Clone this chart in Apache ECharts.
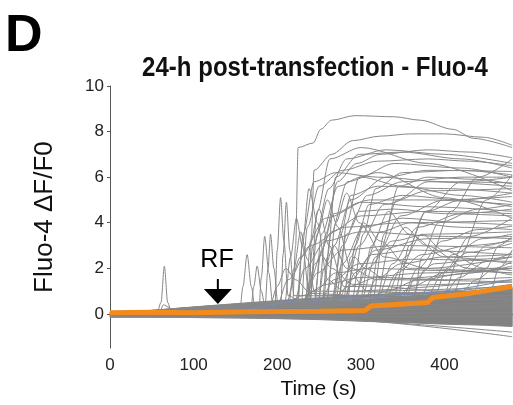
<!DOCTYPE html>
<html>
<head>
<meta charset="utf-8">
<script src="https://cdn.jsdelivr.net/npm/echarts@6/dist/echarts.min.js"></script>
<style>
html,body{margin:0;padding:0;background:#fff;}
#chart{width:513px;height:405px;}
</style>
</head>
<body>
<div id="chart"></div>
<script>
// ---- data ----
const timeTickLabels = [0, 100, 200, 300, 400];
const timeTicks = [0, 50, 100, 150, 200, 250, 300, 350, 400, 450];
const valueTicks = [0, 2, 4, 6, 8, 10];

// individual cell traces [time (s), dF/F0]
const grayTraces = [
  [[0,0.02],[56,0],[61,0.5],[65,2.1],[69,0.5],[74,0],[150,0.02],[481,0.05]],
  [[0,-0.05],[58,-0.05],[64,0.4],[70,0.3],[76,-0.1],[150,-0.1],[481,-0.1]],
  [[0,0],[155,0.05],[159,1.2],[164,2.6],[169,1.2],[174,0.1],[481,0.3]],
  [[0,0],[168,0.05],[172,1.2],[176,2.1],[181,1.0],[186,0.2],[481,0.4]],
  [[0,0],[178,0.1],[181,1.6],[185,3.4],[190,1.8],[195,0.3],[481,0.5]],
  [[0,0],[185,0.1],[189,2.0],[192,3.5],[196,2.0],[201,0.4],[481,0.7]],
  [[0,0],[197,0.1],[200,2.8],[204,5.1],[208,3.2],[213,0.8],[230,0.5],[481,0.8]],
  [[0,0],[204,0.1],[207,2.6],[211,4.9],[215,2.8],[220,0.8],[481,0.6]],
  [[0,0],[218,0.1],[222,3.0],[225,7.3],[243,7.5],[252,8.1],[265,8.5],[293,8.7],[340,8.65],[371,8.5],[410,8.1],[435,7.7],[481,7.3]],
  [[0,0],[238,0.2],[241,3.5],[244,6.3],[265,7.0],[290,7.6],[323,7.8],[360,7.9],[400,7.9],[447,7.75],[481,7.4]],
  [[0,0],[248,0.3],[258,3.5],[272,5.8],[295,6.6],[323,7.0],[380,7.2],[430,7.1],[481,6.85]],
  [[0,0],[228,0.2],[236,3.8],[250,5.6],[278,6.3],[320,6.7],[380,6.8],[430,6.7],[481,6.5]],
  [[0,0],[258,0.3],[268,3.0],[288,5.0],[330,6.0],[380,6.3],[481,6.25]],
  [[0,0],[268,0.3],[283,3.5],[308,5.2],[350,5.8],[420,6.0],[481,6.0]],
  [[0,0],[224,0.2],[231,3.5],[244,5.8],[270,6.2],[320,6.0],[400,5.8],[481,5.75]],
  [[0,0],[278,0.4],[298,3.0],[328,4.8],[380,5.4],[481,5.5]],
  [[0,0],[298,0.4],[318,2.5],[348,4.3],[400,5.0],[481,5.15]],
  [[0,0],[244,0.2],[253,3.5],[273,5.6],[300,6.0],[350,5.6],[420,5.2],[481,4.9]],
  [[0,0],[318,0.5],[338,2.2],[368,3.8],[420,4.4],[481,4.6]],
  [[0,0],[263,0.3],[278,3.0],[298,4.5],[340,4.6],[400,4.4],[481,4.3]],
  [[0,0],[348,0.6],[368,2.0],[398,3.2],[440,3.7],[481,3.85]],
  [[0,0],[288,0.4],[308,2.0],[338,3.2],[380,3.5],[481,3.6]],
  [[0,0],[378,0.7],[398,1.8],[428,2.7],[481,3.1]],
  [[0,0],[398,0.8],[418,1.6],[450,2.3],[481,2.7]],
  [[0,0],[418,0.9],[438,1.5],[460,2.0],[481,2.3]],
  [[0,0],[234,0.2],[243,3.0],[262,5.5],[283,6.8],[330,7.2],[400,7.0],[481,6.6]],
  [[0,0],[253,0.3],[260,2.5],[270,6.0],[298,7.0],[350,7.1],[420,6.8],[481,6.4]],
  [[0,0],[238,0.2],[248,4.5],[263,6.8],[300,7.3],[380,6.6],[481,5.4]],
  [[0,0],[254,0.3],[264,3.5],[284,5.8],[320,6.2],[400,5.1],[481,4.2]],
  [[0,0],[358,0.6],[378,2.0],[408,4.5],[440,6.0],[481,6.8]],
  [[0,0],[398,0.8],[418,2.5],[450,5.0],[481,6.1]],
  [[0,0],[328,0.5],[348,2.0],[378,4.5],[420,5.8],[481,6.0]],
  [[0,0],[198,0.2],[213,1.5],[240,3.0],[280,3.8],[350,4.0],[481,4.1]],
  [[0,0],[208,0.2],[228,2.5],[258,4.2],[310,5.0],[380,5.0],[481,4.8]],
  [[0,0],[268,0.3],[288,1.5],[318,2.8],[380,3.3],[481,3.4]],
  [[0,0],[228,0.2],[248,1.8],[278,2.8],[340,3.0],[481,2.9]],
  [[0,0],[288,0.4],[303,3.5],[318,5.5],[350,6.2],[420,6.3],[481,6.1]],
  [[0,0],[308,0.5],[323,2.8],[343,5.0],[380,5.8],[481,5.6]],
  [[0,0],[273,0.4],[283,4.0],[298,6.0],[340,6.6],[420,6.4],[481,6.0]],
  [[0,0],[248,0.3],[268,1.5],[298,2.2],[360,2.4],[481,2.3]],
  [[0,0],[343,0.6],[358,3.0],[378,4.5],[420,5.0],[481,5.3]],
  [[0,0],[363,0.6],[373,2.5],[393,4.0],[440,4.6],[481,4.8]],
  [[0,0],[208,0.2],[216,2.5],[223,4.2],[230,3.0],[238,1.0],[481,0.8]],
  [[0,0],[223,0.2],[230,3.0],[238,5.5],[248,4.0],[260,1.5],[280,1.0],[481,1.5]],
  [[0,0],[238,0.3],[248,3.5],[260,5.0],[273,3.8],[288,2.0],[320,1.5],[481,2.0]],
  [[0,0],[258,0.3],[270,4.0],[283,5.3],[298,4.0],[328,2.5],[380,2.0],[481,2.5]],
  [[0,0],[278,0.4],[288,2.5],[303,4.0],[323,3.2],[358,2.0],[481,1.8]],
  [[0,0],[298,0.5],[313,3.0],[333,4.5],[358,3.5],[400,2.5],[481,2.2]],
  [[0,0],[318,0.5],[333,2.8],[353,3.8],[378,3.0],[428,2.0],[481,1.7]],
  [[0,0],[248,0.3],[256,2.0],[268,3.0],[283,2.0],[308,1.0],[481,1.2]],
  [[0,0],[338,0.6],[353,2.5],[373,3.5],[398,2.8],[448,2.0],[481,1.9]],
  [[0,0],[213,0.2],[220,2.0],[228,3.6],[236,2.4],[246,0.8],[481,1.0]],
  [[0,0],[233,0.2],[240,3.2],[250,4.6],[262,3.0],[280,1.2],[481,1.4]],
  [[0,0],[278,0.4],[293,1.8],[313,2.6],[360,2.8],[481,2.6]],
  [[0,0],[303,0.5],[318,1.5],[348,2.2],[400,2.5],[481,2.6]],
  [[0,0],[323,0.5],[343,1.8],[373,2.6],[430,3.0],[481,3.2]],
  [[0,0],[263,0.3],[278,2.2],[303,3.8],[350,4.2],[420,4.0],[481,3.9]],
  [[0,0],[218,0.2],[233,2.0],[258,3.2],[300,3.6],[400,3.4],[481,3.3]],
  [[0,0],[283,0.4],[293,3.0],[310,4.8],[350,5.2],[420,5.0],[481,4.7]],
  [[0,0],[243,0.3],[253,2.8],[268,4.4],[300,4.9],[380,4.7],[481,4.5]],
  [[0,0],[353,0.6],[363,1.5],[388,2.2],[440,2.4],[481,2.5]],
  [[0,0],[268,0.4],[276,3.5],[288,5.2],[320,5.6],[400,5.5],[481,5.3]],
  [[0,0],[293,0.4],[303,2.0],[323,3.6],[360,4.0],[420,3.8],[481,3.7]],
  [[0,0],[388,0.8],[403,2.0],[430,3.4],[481,4.2]],
  [[0,0],[233,0.2],[245,2.2],[265,3.6],[300,4.3],[380,4.5],[481,4.4]],
  [[0,0],[313,0.5],[328,3.5],[345,5.6],[380,6.0],[440,5.9],[481,5.7]],
  [[0,0],[200,0.2],[230,0.8],[260,1.3],[300,1.6],[380,1.8],[481,2.0]],
  [[0,0],[220,0.3],[245,1.0],[270,1.8],[310,2.0],[400,1.9],[481,1.8]],
  [[0,0],[260,0.4],[285,1.2],[320,1.6],[400,1.5],[481,1.6]],
  [[0,0],[300,0.5],[330,1.0],[370,1.5],[430,1.8],[481,2.1]],
  [[0,0],[190,0.2],[200,1.2],[210,2.0],[222,1.5],[240,0.9],[300,0.8],[481,1.1]],
  [[0,0],[270,0.4],[280,1.5],[292,2.5],[305,2.0],[330,1.5],[481,1.4]],
  [[0,0],[340,0.6],[360,1.2],[400,1.8],[450,2.0],[481,2.0]],
  [[0,0],[230,0.3],[240,1.5],[252,2.6],[265,2.0],[290,1.3],[400,1.0],[481,1.3]],
  [[0,0],[370,0.7],[385,1.5],[410,2.6],[445,3.3],[481,3.5]],
  [[0,0],[410,0.9],[425,2.0],[450,3.0],[481,3.3]],
  [[0,0],[435,1.0],[450,2.0],[465,3.0],[481,3.4]],
  [[0,0],[455,1.0],[465,2.0],[481,2.8]],
  [[0,-0.1],[257,-0.22],[481,-1.0]],
  [[0,-0.1],[200,-0.15],[481,-0.8]]
];

// dense bundle of non-responding cells
const bandTime = [0, 100, 150, 200, 250, 300, 350, 400, 450, 481];
const bandLow  = [-0.15, -0.15, -0.15, -0.2, -0.25, -0.32, -0.38, -0.45, -0.5, -0.55];
const bandHigh = [0.1, 0.1, 0.15, 0.3, 0.45, 0.6, 0.75, 0.9, 1.05, 1.15];

// blue trace
const blueTrace = [[0,0],[150,0.1],[200,0.45],[250,0.6],[300,0.7],[350,0.85],[400,1.0],[481,1.5]];

// orange (control) trace
const orangeTime = [0, 50, 100, 168, 250, 305, 312, 380, 386, 430, 481];
const orangeVal  = [0.05, 0.07, 0.05, 0.09, 0.12, 0.15, 0.35, 0.5, 0.72, 0.9, 1.2];

// RF stimulus marker
const rfTime = 129;
const rfArrowTip = 0.44;
const rfLabelValue = 2.36;

// ---- chart ----
const chart = echarts.init(document.getElementById('chart'), null, {renderer: 'canvas'});

const series = [];
series.push({
  type: 'custom', silent: true, z: 1,
  data: [0],
  renderItem: function (params, api) {
    const pts = [];
    for (let i = 0; i < bandTime.length; i++) pts.push(api.coord([bandTime[i], bandHigh[i]]));
    for (let i = bandTime.length - 1; i >= 0; i--) pts.push(api.coord([bandTime[i], bandLow[i]]));
    return {type: 'polygon', shape: {points: pts}, style: {fill: '#828282', stroke: '#828282', lineWidth: 1}};
  }
});
grayTraces.forEach((tr) => {
  series.push({
    type: 'line', symbol: 'none', silent: true, smooth: 0.3, smoothMonotone: 'x',
    lineStyle: {width: 1, color: '#888888'},
    data: tr, z: 2
  });
});
series.push({
  type: 'line', symbol: 'none', silent: true, smooth: 0.3,
  lineStyle: {width: 1.2, color: '#7b8db5'},
  data: blueTrace, z: 3
});
series.push({
  type: 'line', symbol: 'none', silent: true,
  lineStyle: {width: 5, color: '#f38a1c'},
  data: orangeTime.map((t, i) => [t, orangeVal[i]]),
  z: 4,
  markPoint: {
    silent: true,
    animation: false,
    data: [
      {
        coord: [rfTime, rfArrowTip],
        symbol: 'path://M13,0 L15,0 L15,10 L28,10 L14,25 L0,10 L13,10 Z',
        symbolSize: [28, 25],
        symbolKeepAspect: false,
        symbolOffset: [0, '-50%'],
        itemStyle: {color: '#000'},
        label: {show: false}
      },
      {
        coord: [rfTime - 1, rfLabelValue],
        symbol: 'circle',
        symbolSize: 1,
        itemStyle: {color: 'rgba(0,0,0,0)'},
        label: {show: true, position: 'inside', formatter: 'RF', color: '#000',
                fontSize: 25, fontFamily: 'Liberation Sans'}
      }
    ]
  }
});

chart.setOption({
  animation: false,
  backgroundColor: '#fff',
  title: [
    {text: 'D', left: 0, top: 6,
     textStyle: {fontSize: 52, fontWeight: 'bold', color: '#000', fontFamily: 'Liberation Sans'}}
  ],
  graphic: [
    {type: 'text', x: 315, y: 69, scaleX: 0.89,
     style: {text: '24-h post-transfection - Fluo-4', fontSize: 27, fontWeight: 'bold',
             fill: '#111', fontFamily: 'Liberation Sans', align: 'center', verticalAlign: 'middle'}}
  ],
  grid: {left: 110, right: 0, top: 86, bottom: 56, containLabel: false},
  xAxis: {
    type: 'value', min: 0, max: 482,
    name: 'Time (s)', nameLocation: 'middle', nameGap: 29,
    nameTextStyle: {fontSize: 21, color: '#111', fontFamily: 'Liberation Sans', padding: [0, 0, 0, 14]},
    axisLine: {show: true, lineStyle: {color: '#555', width: 1}},
    axisTick: {show: true, length: 3, customValues: timeTicks, lineStyle: {color: '#555'}},
    axisLabel: {customValues: timeTickLabels, fontSize: 17, color: '#222', margin: 9,
                fontFamily: 'Liberation Sans'},
    splitLine: {show: false}
  },
  yAxis: {
    type: 'value', min: -1.5, max: 10,
    name: 'Fluo-4 ΔF/F0', nameLocation: 'middle', nameGap: 52, nameRotate: 90,
    nameTextStyle: {fontSize: 26, color: '#111', fontFamily: 'Liberation Sans'},
    axisLine: {show: true, lineStyle: {color: '#555', width: 1}},
    axisTick: {show: true, length: 3, customValues: valueTicks, lineStyle: {color: '#555'}},
    axisLabel: {customValues: valueTicks, fontSize: 17, color: '#222', margin: 6,
                fontFamily: 'Liberation Sans'},
    splitLine: {show: false}
  },
  series: series
});
</script>
</body>
</html>
